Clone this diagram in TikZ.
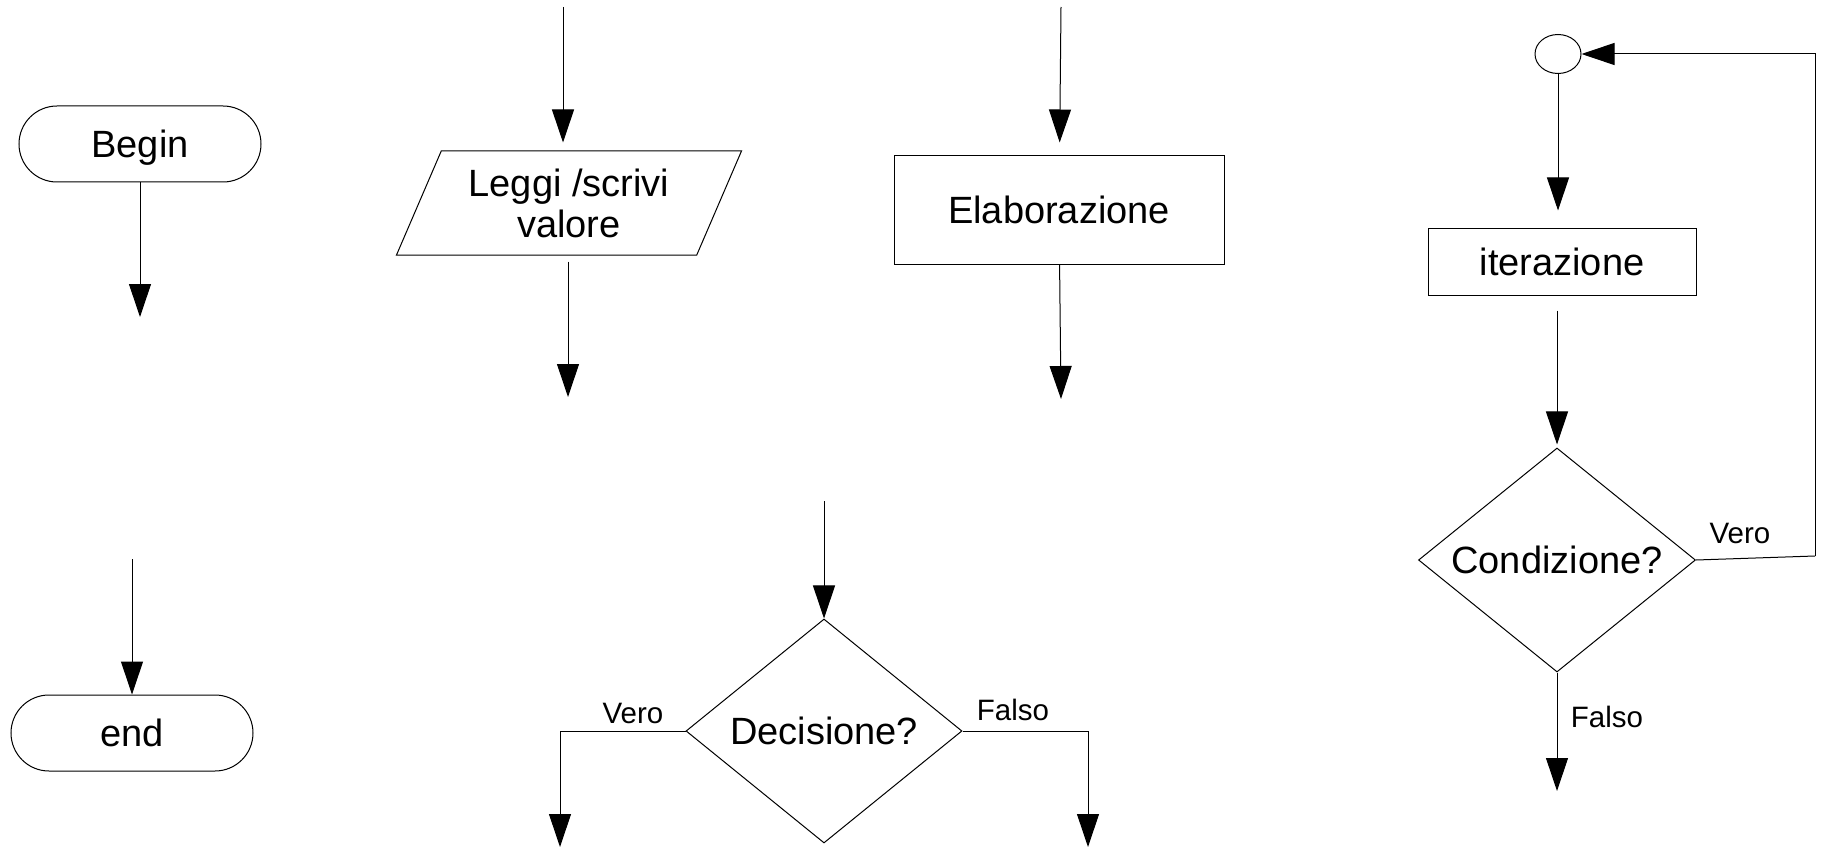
\documentclass[tikz,border=0pt]{standalone}
\usepackage{fontspec}
\setmainfont{Liberation Sans}
\usetikzlibrary{arrows.meta,shapes.geometric,positioning}

\tikzset{
  arr/.style={-{Triangle[length=33pt,width=22pt]}},
  terminal/.style={rectangle, draw, rounded corners=38pt, minimum width=242pt, minimum height=76pt, inner sep=0pt, text depth=0pt, font=\fontsize{38}{41}\selectfont},
  io/.style={trapezium, draw, trapezium left angle=57, trapezium right angle=123, trapezium stretches body, minimum width=345pt, minimum height=104pt, inner sep=0pt, align=center, font=\fontsize{38}{41}\selectfont},
  process/.style={rectangle, draw, inner sep=0pt, font=\fontsize{38}{41}\selectfont},
  decision/.style={diamond, draw, aspect=1.24, inner sep=0pt, font=\fontsize{38}{41}\selectfont},
  lbl/.style={inner sep=0pt, font=\fontsize{29.5}{33}\selectfont}
}

\begin{document}
\begin{tikzpicture}[x=1pt, y=-1pt, line width=1pt]
\useasboundingbox (0,0) rectangle (1824,848);

% Blocks
\node[terminal] (begin) at (140,144) {Begin};
\node[terminal] (stop) at (132,733) {end};
\node[io] (leggi) at (569,203) {Leggi /scrivi\\valore};
\node[process, minimum width=330pt, minimum height=108pt] (elab) at (1059,210) {Elaborazione};
\node[ellipse, draw, minimum width=46pt, minimum height=39pt, inner sep=0pt] (loop) at (1558,54) {};
\node[process, minimum width=268pt, minimum height=67pt] (iter) at (1562,261.5) {iterazione};
\node[decision, minimum width=277pt, minimum height=224pt] (cond) at (1557,560) {Condizione?};
\node[decision, minimum width=276pt, minimum height=224pt] (dec) at (824,731) {Decisione?};

% Free ends of the connectors
\foreach \pos/\name in {{(140,317)/beginout}, {(132,559)/stopin}, {(563,7)/leggiin}, {(568,397)/leggiout},
  {(1061,7)/elabin}, {(1061,399)/elabout}, {(1557,791)/condout}, {(824,501)/decin},
  {(560,847)/decvero}, {(1088,847)/decfalso}, {(1815,556)/corner}}
\node[coordinate] (\name) at \pos {};

% Connectors
\draw[arr] (begin) -- (beginout);
\draw[arr] (stopin) -- (stop);
\draw[arr, shorten >=8pt] (leggiin) -- (leggiin |- leggi.north);
\draw[arr, shorten <=6pt] (leggiout |- leggi.south) -- (leggiout);
\draw[arr, shorten >=13pt] (elabin) -- (elab);
\draw[arr] (elab) -- (elabout);
\draw[arr, shorten >=17pt] (loop) -- (loop |- iter.north);
\draw[arr, shorten <=15pt, shorten >=3pt] (cond |- iter.south) -- (cond);
\draw (cond.east) -- (corner);
\draw[arr] (corner) |- (loop);
\draw[arr] (cond) -- (condout);
\draw[arr] (decin) -- (dec);
\draw[arr] (dec.west) -| (decvero);
\draw[arr] (dec.east) -| (decfalso);

% Labels
\node[lbl] (condvero) at (1740,533) {Vero};
\node[lbl] (condfalso) at (1607,717) {Falso};
\node[lbl] (decverolbl) at (633,713) {Vero};
\node[lbl] (decfalsolbl) at (1013,710) {Falso};

\end{tikzpicture}
\end{document}
